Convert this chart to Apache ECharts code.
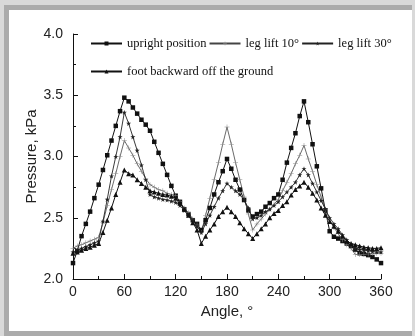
<!DOCTYPE html>
<html>
<head>
<meta charset="utf-8">
<style>
  html, body { margin: 0; padding: 0; background: #fff; }
  #chart { width: 415px; height: 336px; }
</style>
<script src="https://cdn.jsdelivr.net/npm/echarts@6.0.0/dist/echarts.min.js"></script>
</head>
<body>
<div id="chart"></div>
<script>
// angle, degrees (one point every 5°)
const angles = [0, 5, 10, 15, 20, 25, 30, 35, 40, 45, 50, 55, 60, 65, 70, 75, 80, 85, 90, 95,
  100, 105, 110, 115, 120, 125, 130, 135, 140, 145, 150, 155, 160, 165, 170, 175, 180, 185, 190, 195,
  200, 205, 210, 215, 220, 225, 230, 235, 240, 245, 250, 255, 260, 265, 270, 275, 280, 285, 290, 295,
  300, 305, 310, 315, 320, 325, 330, 335, 340, 345, 350, 355, 360]

// pressure, kPa
const upright = [2.13, 2.23, 2.35, 2.45, 2.55, 2.66, 2.77, 2.89, 3.01, 3.13, 3.25, 3.37, 3.48, 3.45, 3.40, 3.35, 3.30, 3.26, 3.21, 3.12,
  3.03, 2.94, 2.85, 2.76, 2.68, 2.63, 2.57, 2.53, 2.48, 2.45, 2.40, 2.48, 2.58, 2.69, 2.79, 2.88, 2.98, 2.90, 2.81, 2.73,
  2.645, 2.56, 2.51, 2.53, 2.55, 2.59, 2.62, 2.66, 2.69, 2.81, 2.95, 3.07, 3.19, 3.33, 3.45, 3.28, 3.10, 2.92, 2.74, 2.56,
  2.39, 2.345, 2.33, 2.31, 2.29, 2.27, 2.24, 2.21, 2.205, 2.195, 2.18, 2.16, 2.13]

const legLift10 = [2.25, 2.27, 2.28, 2.295, 2.31, 2.325, 2.34, 2.46, 2.60, 2.73, 2.86, 3.00, 3.13, 3.07, 3.01, 2.94, 2.88, 2.82, 2.77, 2.75,
  2.73, 2.72, 2.70, 2.69, 2.68, 2.63, 2.58, 2.54, 2.49, 2.44, 2.38, 2.52, 2.66, 2.81, 2.95, 3.10, 3.24, 3.10, 2.95, 2.81,
  2.67, 2.53, 2.40, 2.45, 2.49, 2.53, 2.57, 2.61, 2.65, 2.72, 2.79, 2.86, 2.94, 3.01, 3.09, 2.98, 2.88, 2.77, 2.67, 2.57,
  2.48, 2.42, 2.37, 2.32, 2.28, 2.25, 2.20, 2.20, 2.20, 2.205, 2.21, 2.21, 2.21]

const legLift30 = [2.22, 2.235, 2.25, 2.265, 2.28, 2.295, 2.31, 2.47, 2.65, 2.84, 3.00, 3.16, 3.36, 3.27, 3.16, 3.05, 2.93, 2.81, 2.69, 2.67,
  2.66, 2.65, 2.645, 2.635, 2.625, 2.60, 2.56, 2.52, 2.48, 2.43, 2.38, 2.45, 2.52, 2.59, 2.66, 2.72, 2.78, 2.75, 2.72, 2.69,
  2.645, 2.58, 2.49, 2.50, 2.52, 2.55, 2.57, 2.60, 2.63, 2.67, 2.71, 2.75, 2.79, 2.85, 2.90, 2.85, 2.78, 2.71, 2.64, 2.57,
  2.50, 2.45, 2.41, 2.36, 2.32, 2.28, 2.25, 2.24, 2.235, 2.23, 2.225, 2.22, 2.22]

const footBackward = [2.21, 2.22, 2.235, 2.25, 2.26, 2.275, 2.29, 2.38, 2.48, 2.58, 2.69, 2.79, 2.89, 2.86, 2.85, 2.81, 2.78, 2.75, 2.72, 2.71,
  2.70, 2.69, 2.685, 2.675, 2.66, 2.62, 2.57, 2.52, 2.46, 2.40, 2.29, 2.35, 2.40, 2.45, 2.51, 2.55, 2.585, 2.55, 2.51, 2.46,
  2.41, 2.37, 2.33, 2.37, 2.41, 2.45, 2.50, 2.535, 2.56, 2.60, 2.63, 2.685, 2.73, 2.76, 2.79, 2.75, 2.70, 2.645, 2.58, 2.52,
  2.47, 2.43, 2.39, 2.35, 2.31, 2.29, 2.28, 2.27, 2.26, 2.255, 2.25, 2.25, 2.255]

const seriesNames = ['upright position', 'leg lift 10°', 'leg lift 30°', 'foot backward off the ground']

// marker shapes
const plusPath = 'path://M4.5,0h1v4.5h4.5v1h-4.5v4.5h-1v-4.5h-4.5v-1h4.5z'
const starPath = 'path://M5,0L6.2,3.6L10,3.6L6.9,5.9L8.1,9.5L5,7.3L1.9,9.5L3.1,5.9L0,3.6L3.8,3.6Z'

const chart = echarts.init(document.getElementById('chart'))

const pairs = (vals) => angles.map((a, i) => [a, vals[i]])

const legendText = {
  fontFamily: 'Liberation Serif',
  fontSize: 12.5,
  color: '#111'
}

const option = {
  animation: false,
  backgroundColor: '#fff',
  graphic: [
    // grey frame round the figure
    { type: 'rect', z: -10, shape: { x: 0, y: 0, width: 415, height: 336 }, style: { fill: '#d9d9d9' } },
    { type: 'rect', z: -9, shape: { x: 4, y: 5, width: 408, height: 331 }, style: { fill: '#ababab' } },
    { type: 'rect', z: -8, shape: { x: 9, y: 10, width: 403, height: 321 }, style: { fill: '#fff' } }
  ],
  grid: {
    left: 73,
    right: 34,
    top: 34,
    bottom: 57,
    containLabel: false
  },
  legend: [
    {
      data: seriesNames.slice(0, 3),
      left: 90,
      top: 37,
      padding: 0,
      itemWidth: 31,
      itemHeight: 5,
      itemGap: 2,
      textStyle: legendText
    },
    {
      data: seriesNames.slice(3),
      left: 90,
      top: 65,
      padding: 0,
      itemWidth: 31,
      itemHeight: 5,
      itemGap: 2,
      textStyle: legendText
    }
  ],
  xAxis: {
    type: 'value',
    min: 0,
    max: 360,
    interval: 60,
    name: 'Angle, °',
    nameLocation: 'middle',
    nameGap: 25,
    nameMoveOverlap: false,
    nameTextStyle: { fontFamily: 'Liberation Sans', fontSize: 15, color: '#222' },
    axisLine: { lineStyle: { color: '#111', width: 1 } },
    axisTick: { inside: true, length: 5, lineStyle: { color: '#111' } },
    minorTick: { show: true, splitNumber: 2, length: 3, lineStyle: { color: '#111' } },
    axisLabel: { fontFamily: 'Liberation Sans', fontSize: 14, color: '#222', margin: 6 },
    splitLine: { show: false }
  },
  yAxis: {
    type: 'value',
    min: 2,
    max: 4,
    interval: 0.5,
    name: 'Pressure, kPa',
    nameLocation: 'middle',
    nameGap: 34,
    nameMoveOverlap: false,
    nameTextStyle: { fontFamily: 'Liberation Sans', fontSize: 15, color: '#222' },
    axisLine: { show: true, lineStyle: { color: '#111', width: 1 } },
    axisTick: { show: true, inside: true, length: 5, lineStyle: { color: '#111' } },
    minorTick: { show: true, splitNumber: 2, length: 3, lineStyle: { color: '#111' } },
    axisLabel: {
      fontFamily: 'Liberation Sans',
      fontSize: 14,
      color: '#222',
      margin: 10,
      formatter: (v) => v.toFixed(1)
    },
    splitLine: { show: false }
  },
  series: [
    {
      name: seriesNames[0],
      type: 'line',
      data: pairs(upright),
      symbol: 'rect',
      symbolSize: 4.5,
      itemStyle: { color: '#111' },
      lineStyle: { color: '#111', width: 1 }
    },
    {
      name: seriesNames[1],
      type: 'line',
      data: pairs(legLift10),
      symbol: plusPath,
      symbolSize: 5,
      itemStyle: { color: '#888' },
      lineStyle: { color: '#444', width: 0.8 }
    },
    {
      name: seriesNames[2],
      type: 'line',
      data: pairs(legLift30),
      symbol: starPath,
      symbolSize: 5,
      itemStyle: { color: '#222' },
      lineStyle: { color: '#222', width: 0.9 }
    },
    {
      name: seriesNames[3],
      type: 'line',
      data: pairs(footBackward),
      symbol: 'triangle',
      symbolSize: 5,
      itemStyle: { color: '#111' },
      lineStyle: { color: '#111', width: 1 }
    }
  ]
}

chart.setOption(option)
</script>
</body>
</html>
